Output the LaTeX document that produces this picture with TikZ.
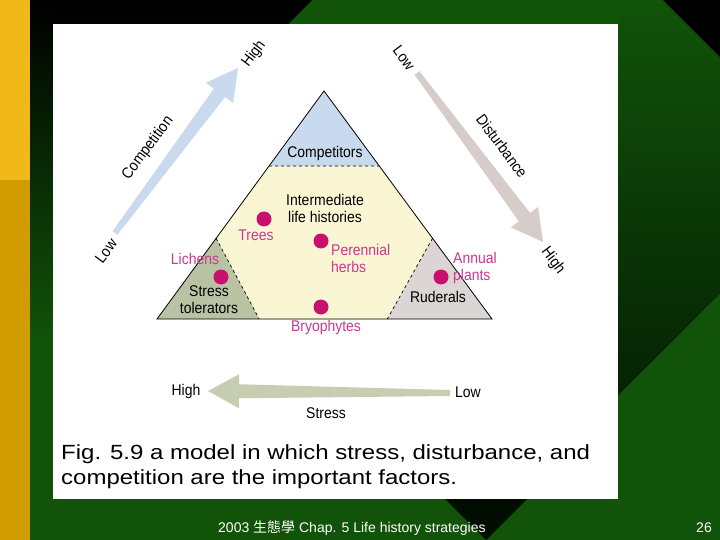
\documentclass[tikz,border=0pt]{standalone}
\usepackage{fontspec}
\setmainfont{Liberation Sans}
\newfontfamily\figfont[FakeStretch=0.9]{Liberation Sans}
\newfontfamily\capfont[FakeStretch=1.17]{Liberation Sans}
\newfontfamily\cjk{Noto Sans CJK TC}
\usetikzlibrary{calc}
\definecolor{slidegreen}{HTML}{115309}
\definecolor{darkgreen}{HTML}{0A3204}
\definecolor{deepgreen}{HTML}{052204}
\definecolor{baryellow}{HTML}{F0B818}
\definecolor{bargold}{HTML}{D09C00}
\definecolor{compblue}{HTML}{C9DAEE}
\definecolor{midyellow}{HTML}{FAF6D4}
\definecolor{stressgreen}{HTML}{B9C3A4}
\definecolor{ruderalgrey}{HTML}{DCD5D5}
\definecolor{distgrey}{HTML}{D6CDCB}
\definecolor{stressarrow}{HTML}{C7CDB1}
\definecolor{dotpink}{HTML}{C8106E}
\definecolor{plantpink}{HTML}{C63A90}
% tapered fat arrow: colour, tail, tip
\newcommand{\fatarrow}[3]{%
  \coordinate (hb) at ($(#3)!31pt!(#2)$);
  \fill[#1] ($(#2)!3pt!90:(#3)$) -- ($(hb)!7pt!90:(#3)$) -- ($(hb)!17pt!90:(#3)$)
    -- (#3) -- ($(hb)!17pt!-90:(#3)$) -- ($(hb)!7pt!-90:(#3)$) -- ($(#2)!3pt!-90:(#3)$) -- cycle;}

\begin{document}
\begin{tikzpicture}[x=1pt,y=-1pt,
  lbl/.style={font=\figfont\fontsize{15.5}{17}\selectfont, inner sep=0pt, align=center},
  pinklbl/.style={lbl, text=plantpink},
  plantdot/.style={circle, fill=dotpink, minimum size=15pt, inner sep=0pt}]
\useasboundingbox (0,0) rectangle (720,540);
% slide background
\fill[slidegreen] (0,0) rectangle (720,540);
\fill[top color=black, bottom color=slidegreen] (30,0) rectangle (53,340);
\fill[top color=black, bottom color=darkgreen] (30,0) -- (312,0) -- (53,259) -- (53,0) -- cycle;
\fill[top color=slidegreen, bottom color=deepgreen] (618,0) -- (663,0) -- (720,57) -- (720,293) -- (618,395) -- cycle;
\fill[black] (663,0) -- (720,0) -- (720,57) -- cycle;
\fill[black!95!green] (386,440) -- (586,440) -- (486,540) -- cycle;
\fill[baryellow] (0,0) rectangle (30,180);
\fill[bargold] (0,180) rectangle (30,540);
\fill[white] (53,24) rectangle (618,499);

% the triangle
\coordinate (apex) at (324,91);
\coordinate (bl) at (157,319);
\coordinate (br) at (492,319);
\coordinate (cl) at ($(bl)!0.671!(apex)$);
\coordinate (cr) at ($(br)!0.671!(apex)$);
\coordinate (sl) at ($(bl)!0.354!(apex)$);
\coordinate (sb) at ($(bl)!0.305!(br)$);
\coordinate (rl) at ($(br)!0.354!(apex)$);
\coordinate (rb) at ($(br)!0.3125!(bl)$);
\fill[midyellow] (bl) -- (apex) -- (br) -- cycle;
\fill[compblue] (apex) -- (cl) -- (cr) -- cycle;
\fill[stressgreen] (bl) -- (sl) -- (sb) -- cycle;
\fill[ruderalgrey] (br) -- (rl) -- (rb) -- cycle;
\draw[dashed, line width=0.7pt] (cl) -- (cr) (sl) -- (sb) (rl) -- (rb);
\draw[line width=0.8pt] (bl) -- (apex) -- (br) -- cycle;

% the three arrows
\coordinate (complow) at (115,233);
\coordinate (comphigh) at (238,68);
\coordinate (distlow) at (417,73);
\coordinate (disthigh) at (543,242);
\coordinate (stresslow) at (450,393);
\coordinate (stresshigh) at (208,391);
\fatarrow{compblue}{complow}{comphigh}
\fatarrow{distgrey}{distlow}{disthigh}
\fatarrow{stressarrow}{stresslow}{stresshigh}

\node[lbl, rotate=53.3] (complowlbl) at (106,251) {Low};
\node[lbl, rotate=53.3] (complbl) at (148,148) {Competition};
\node[lbl, rotate=53.3] (comphighlbl) at (254,54) {High};
\node[lbl, rotate=-53.3] (distlowlbl) at (404,58) {Low};
\node[lbl, rotate=-53.3] (distlbl) at (502,146) {Disturbance};
\node[lbl, rotate=-53.3] (disthighlbl) at (553,261) {High};
\node[lbl] (stresshighlbl) at (186,391) {High};
\node[lbl] (stresslowlbl) at (468,392) {Low};
\node[lbl] (stresslbl) at (326,413) {Stress};

% regions and plants
\node[lbl] (comp) at (325,153) {Competitors};
\node[lbl] (inter) at (325,208) {Intermediate\\life histories};
\node[lbl] (stol) at (209,300) {Stress\\tolerators};
\node[lbl] (rud) at (438,297) {Ruderals};
\node[plantdot] (treedot) at (264,219) {};
\node[pinklbl] (trees) at (256,235) {Trees};
\node[plantdot] (perdot) at (321,241) {};
\node[pinklbl, anchor=west, align=left] (perennial) at (331,258) {Perennial\\herbs};
\node[plantdot] (lichdot) at (221,277) {};
\node[pinklbl] (lichens) at (195,259) {Lichens};
\node[plantdot] (anndot) at (441,277) {};
\node[pinklbl, anchor=west, align=left] (annual) at (453,268) {Annual\\plants};
\node[plantdot] (bryodot) at (321,307) {};
\node[pinklbl] (bryo) at (326,327) {Bryophytes};

% caption and footer
\node[anchor=base west, inner sep=0pt, font=\capfont\fontsize{20.5}{25}\selectfont] (cap1) at (61,459)
  {Fig. 5.9 a model in which stress, disturbance, and};
\node[anchor=base west, inner sep=0pt, font=\capfont\fontsize{20.5}{25}\selectfont] (cap2) at (61,484)
  {competition are the important factors.};
\node[anchor=base west, inner sep=0pt, text=white, font=\fontsize{14}{16}\selectfont] (footer) at (218,532)
  {2003 {\cjk 生態學} Chap. 5 Life history strategies};
\node[anchor=base east, inner sep=0pt, text=white, font=\fontsize{14}{16}\selectfont] (pageno) at (712,532) {26};
\end{tikzpicture}
\end{document}
